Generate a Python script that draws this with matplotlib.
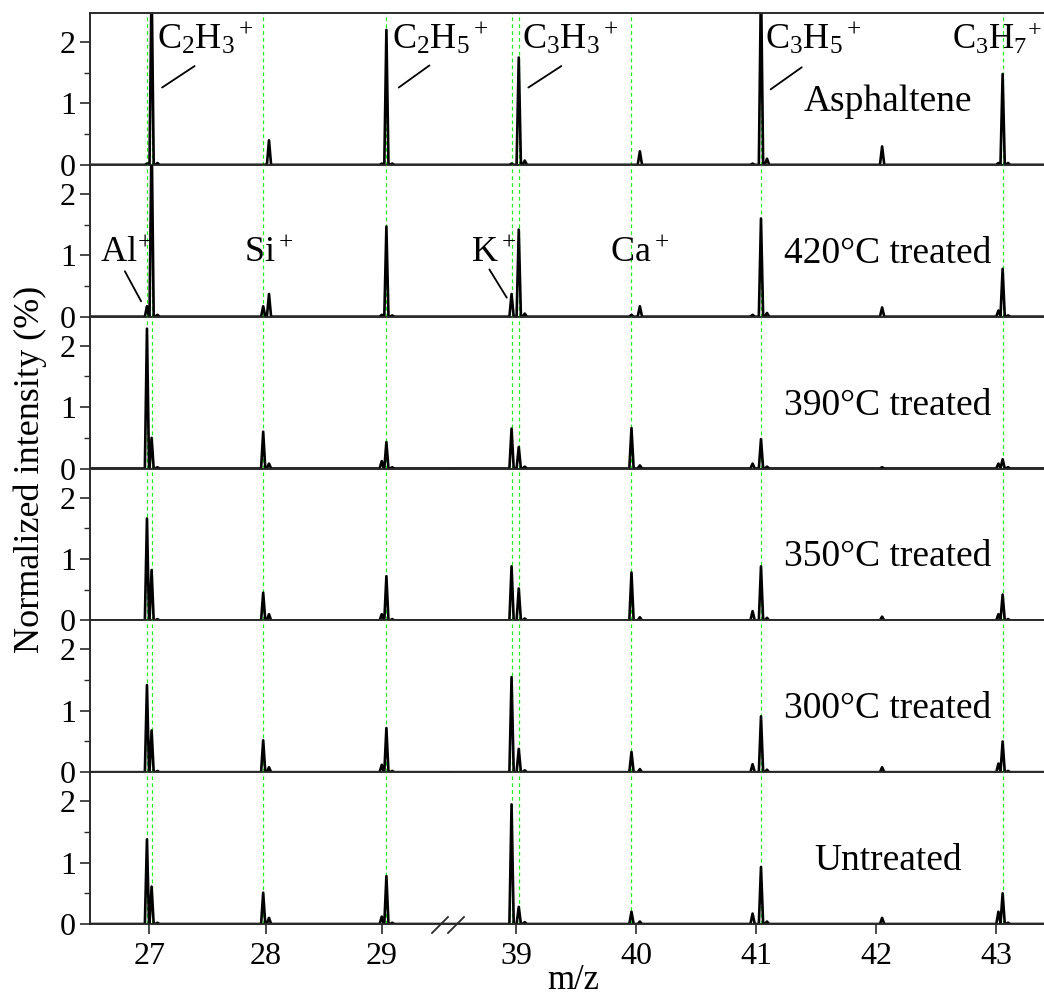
import matplotlib
matplotlib.use('Agg')
import matplotlib.pyplot as plt
from matplotlib.lines import Line2D

plt.rcParams['font.family'] = ['Liberation Serif', 'DejaVu Serif']
plt.rcParams['mathtext.fontset'] = 'custom'
plt.rcParams['mathtext.rm'] = 'Liberation Serif'
plt.rcParams['mathtext.it'] = 'Liberation Serif:italic'
plt.rcParams['mathtext.bf'] = 'Liberation Serif:bold'

# peak positions (m/z) and peak heights (%)
peak_mz = [26.98, 27.02, 27.07, 27.98, 28.03, 29.00, 29.04, 29.09,
           38.96, 39.02, 39.07, 39.96, 40.03, 40.97, 41.04, 41.09,
           42.05, 43.02, 43.055, 43.10]
asphaltene = [0.02, 3.00, 0.03, 0.00, 0.40, 0.02, 2.20, 0.02,
              0.02, 1.75, 0.07, 0.00, 0.22, 0.02, 3.00, 0.10,
              0.30, 0.03, 1.48, 0.03]
treated_420 = [0.17, 3.00, 0.03, 0.17, 0.37, 0.03, 1.47, 0.02,
               0.37, 1.42, 0.05, 0.03, 0.17, 0.03, 1.60, 0.06,
               0.15, 0.10, 0.78, 0.02]
treated_390 = [2.28, 0.50, 0.02, 0.60, 0.08, 0.12, 0.43, 0.02,
               0.65, 0.35, 0.03, 0.66, 0.05, 0.08, 0.48, 0.03,
               0.02, 0.08, 0.15, 0.02]
treated_350 = [1.66, 0.82, 0.02, 0.45, 0.10, 0.10, 0.72, 0.02,
               0.88, 0.52, 0.03, 0.78, 0.05, 0.15, 0.88, 0.04,
               0.06, 0.10, 0.42, 0.02]
treated_300 = [1.42, 0.68, 0.02, 0.52, 0.08, 0.12, 0.72, 0.02,
               1.55, 0.38, 0.03, 0.33, 0.05, 0.13, 0.91, 0.04,
               0.08, 0.14, 0.50, 0.02]
untreated = [1.38, 0.61, 0.02, 0.51, 0.10, 0.12, 0.78, 0.02,
             1.95, 0.28, 0.03, 0.20, 0.04, 0.17, 0.93, 0.04,
             0.10, 0.20, 0.50, 0.02]

samples = ['Asphaltene', '420°C treated', '390°C treated',
           '350°C treated', '300°C treated', 'Untreated']
spectra = [asphaltene, treated_420, treated_390, treated_350, treated_300, untreated]

# reference ion positions (green dashed guides)
ion_mz = [26.98, 27.02, 27.98, 29.04, 38.96, 39.02, 39.96, 41.04, 43.055]

left_ticks = [27, 28, 29]
right_ticks = [39, 40, 41, 42, 43]
left_range = (26.49, 29.57)
right_range = (38.43, 43.40)
ymax = 2.475


def spectrum_line(heights, w=0.018):
    xs, ys = [26.0], [0.0]
    for mz, h in zip(peak_mz, heights):
        xs += [mz - w, mz, mz + w]
        ys += [0.0, h, 0.0]
    xs.append(44.0)
    ys.append(0.0)
    return xs, ys


fig = plt.figure(figsize=(10.44, 10), dpi=100)
gs = fig.add_gridspec(6, 2, left=90 / 1044, right=1.0, top=0.987, bottom=0.076,
                      width_ratios=[358, 596], hspace=0, wspace=0)

spine_c = '#2a2a2a'
line_kw = dict(arrowstyle='-', color='black', lw=1.3, shrinkA=0, shrinkB=0)

for i, (name, heights) in enumerate(zip(samples, spectra)):
    axl = fig.add_subplot(gs[i, 0])
    axr = fig.add_subplot(gs[i, 1])
    xs, ys = spectrum_line(heights)
    for ax, rng, ticks in ((axl, left_range, left_ticks), (axr, right_range, right_ticks)):
        ax.patch.set_visible(False)
        for m in ion_mz:
            ax.axvline(m, color='#22ee22', lw=0.9, ls=(0, (3, 2.5)), zorder=1)
        ax.plot(xs, ys, color='black', lw=1.9, zorder=2)
        ax.set_xlim(*rng)
        ax.set_ylim(0, ymax)
        ax.set_xticks(ticks)
        ax.spines['right'].set_visible(False)
        if i > 0:
            ax.spines['top'].set_visible(False)
        for s in ax.spines.values():
            s.set_color(spine_c)
            s.set_linewidth(1.4)
        if i == 5:
            ax.tick_params(axis='x', direction='out', length=7, width=1.2,
                           color=spine_c, labelsize=23, pad=6)
        else:
            ax.tick_params(axis='x', bottom=False, labelbottom=False)

    axr.spines['left'].set_visible(False)
    axr.tick_params(axis='y', left=False, labelleft=False)
    axl.set_yticks([0, 1, 2])
    axl.set_yticks([0.5, 1.5], minor=True)
    axl.tick_params(axis='y', which='major', direction='out', length=7, width=1.2,
                    color=spine_c, labelsize=23, pad=3)
    axl.tick_params(axis='y', which='minor', direction='out', length=4, width=1.0,
                    color=spine_c)

    axr.text(42.1, 0.88, name, ha='center', va='baseline', fontsize=27)

    if i == 0:
        axl.text(27.07, 1.885, 'C$_2$H$_3$$^+$', fontsize=26, va='baseline')
        axl.annotate('', xy=(27.11, 1.26), xytext=(27.39, 1.61), arrowprops=line_kw)
        axl.text(29.085, 1.885, 'C$_2$H$_5$$^+$', fontsize=26, va='baseline')
        axl.annotate('', xy=(29.146, 1.26), xytext=(29.41, 1.62), arrowprops=line_kw)
        axr.text(39.05, 1.885, 'C$_3$H$_3$$^+$', fontsize=26, va='baseline')
        axr.annotate('', xy=(39.10, 1.26), xytext=(39.375, 1.61), arrowprops=line_kw)
        axr.text(41.075, 1.885, 'C$_3$H$_5$$^+$', fontsize=26, va='baseline')
        axr.annotate('', xy=(41.12, 1.23), xytext=(41.38, 1.59), arrowprops=line_kw)
        axr.text(42.63, 1.885, 'C$_3$H$_7$$^{\\!+}$', fontsize=25, va='baseline')
    if i == 1:
        axl.text(26.58, 0.885, 'Al$^{\\!+}$', fontsize=26, va='baseline')
        axl.annotate('', xy=(26.93, 0.25), xytext=(26.79, 0.74), arrowprops=line_kw)
        axl.text(27.815, 0.885, 'Si$^+$', fontsize=26, va='baseline')
        axr.text(38.625, 0.885, 'K$^+$', fontsize=26, va='baseline')
        axr.annotate('', xy=(38.92, 0.31), xytext=(38.775, 0.77), arrowprops=line_kw)
        axr.text(39.78, 0.885, 'Ca$^+$', fontsize=26, va='baseline')

# axis break marks on the bottom axis
for x0 in (432, 448):
    fig.add_artist(Line2D([x0 / 1044, (x0 + 16) / 1044], [1 - 933 / 1000, 1 - 917 / 1000],
                          color=spine_c, lw=1.3))

fig.text(573 / 1044, 0.003, 'm/z', ha='center', va='bottom', fontsize=25)
fig.text(30 / 1044, 0.531, 'Normalized intensity (%)', rotation=90,
         ha='center', va='center', fontsize=26)

fig.savefig('out.png', dpi=100)
